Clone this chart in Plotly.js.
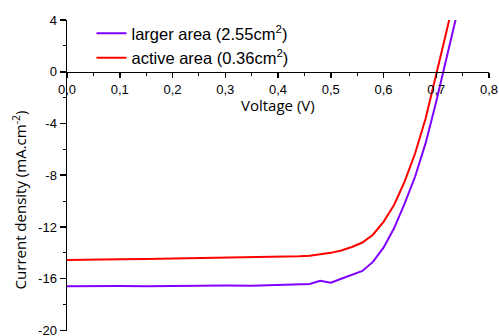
<!DOCTYPE html>
<html>
<head>
<meta charset="utf-8">
<script src="https://cdn.plot.ly/plotly-3.0.1.min.js"></script>
<style>html,body{margin:0;padding:0;background:#fff;}#chart{width:499px;height:336px;}</style>
</head>
<body>
<div id="chart"></div>
<script>
// Data
const voltageLarger = [0.00,0.05,0.10,0.15,0.20,0.25,0.30,0.35,0.40,0.44,0.46,0.48,0.50,0.52,0.54,0.56,0.58,0.60,0.62,0.64,0.66,0.68,0.70,0.72,0.74];
const currentLarger = [-16.58,-16.60,-16.57,-16.58,-16.55,-16.56,-16.53,-16.54,-16.50,-16.47,-16.40,-16.15,-16.30,-16.00,-15.70,-15.40,-14.70,-13.60,-12.10,-10.20,-8.10,-5.50,-2.30,1.20,4.60];
const voltageActive = [0.00,0.05,0.10,0.15,0.20,0.25,0.30,0.35,0.40,0.44,0.46,0.48,0.50,0.52,0.54,0.56,0.58,0.60,0.62,0.64,0.66,0.68,0.70,0.72,0.73];
const currentActive = [-14.55,-14.55,-14.50,-14.48,-14.45,-14.42,-14.40,-14.37,-14.32,-14.27,-14.22,-14.12,-14.00,-13.82,-13.55,-13.20,-12.60,-11.60,-10.30,-8.50,-6.30,-3.60,-0.30,3.20,5.00];
const seriesNames = ['larger area (2.55cm<sup>2</sup>)', 'active area (0.36cm<sup>2</sup>)'];
const xTickVals = [0,0.1,0.2,0.3,0.4,0.5,0.6,0.7,0.8];
const xTickText = ['0,0','0,1','0,2','0,3','0,4','0,5','0,6','0,7','0,8'];
const yTickVals = [4,0,-4,-8,-12,-16,-20];
const yTickText = ['4','0','-4','-8','-12','-16','-20'];
const xTitle = 'Voltage (V)';
const yTitle = 'Current density (mA.cm<sup>-2</sup>)';

const yMin = -20.04, yMax = 4;

const traces = [
  {x: voltageLarger, y: currentLarger, name: seriesNames[0], mode: 'lines',
   line: {color: '#8000ff', width: 2}},
  {x: voltageActive, y: currentActive, name: seriesNames[1], mode: 'lines',
   line: {color: '#ff0000', width: 2}}
];

const tickFont = {family: 'Liberation Sans, Arial, sans-serif', size: 13, color: '#000'};

const layout = {
  width: 499, height: 336,
  margin: {l: 67, r: 10, t: 20, b: 5},
  paper_bgcolor: '#fff', plot_bgcolor: '#fff',
  showlegend: true,
  legend: {x: 0.058, y: 1.013, xanchor: 'left', yanchor: 'top',
           font: {family: 'Liberation Sans, Arial, sans-serif', size: 16.5, color: '#000'},
           bgcolor: 'rgba(0,0,0,0)', tracegroupgap: 0},
  xaxis: {
    range: [0, 0.8], anchor: 'free', position: (0 - yMin) / (yMax - yMin),
    showline: true, linecolor: '#000', linewidth: 1.5,
    showgrid: false, zeroline: false,
    tickmode: 'array', tickvals: xTickVals, ticktext: xTickText,
    ticks: 'outside', ticklen: 5, tickwidth: 1.5, tickcolor: '#000',
    minor: {tickmode: 'linear', tick0: 0, dtick: 0.05, ticks: 'outside', ticklen: 3, tickwidth: 1.2, tickcolor: '#000', showgrid: false},
    tickfont: tickFont
  },
  yaxis: {
    range: [yMin, yMax],
    showline: true, linecolor: '#000', linewidth: 1.5,
    showgrid: false, zeroline: false,
    tickmode: 'array', tickvals: yTickVals, ticktext: yTickText,
    ticks: 'outside', ticklen: 6, tickwidth: 1.5, tickcolor: '#000',
    ticklabeloverflow: 'allow',
    minor: {tickmode: 'linear', tick0: 0, dtick: 2, ticks: 'outside', ticklen: 3, tickwidth: 1.2, tickcolor: '#000', showgrid: false},
    tickfont: tickFont
  },
  annotations: [
    {text: xTitle, xref: 'x', yref: 'y', x: 0.4, y: -2.6, showarrow: false,
     xanchor: 'center', yanchor: 'middle',
     font: {family: 'Open Sans, sans-serif', size: 15, color: '#000'}},
    {text: yTitle, xref: 'paper', yref: 'paper', x: -0.1137, y: 0.42, showarrow: false,
     textangle: -90, xanchor: 'center', yanchor: 'middle',
     font: {family: 'Open Sans, sans-serif', size: 15, color: '#000'}}
  ]
};

Plotly.newPlot('chart', traces, layout, {displayModeBar: false, staticPlot: true});
</script>
</body>
</html>
